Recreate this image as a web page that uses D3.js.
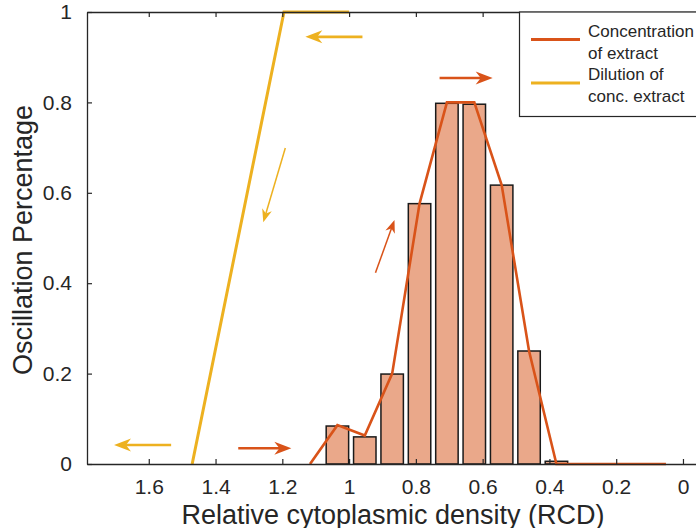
<!DOCTYPE html>
<html>
<head>
<meta charset="utf-8">
<script src="https://cdn.jsdelivr.net/npm/d3@7"></script>
<style>
  body { margin: 0; background: #fff; }
  text { font-family: "Liberation Sans", Arial, sans-serif; fill: #262626; }
</style>
</head>
<body>
<svg id="chart" width="696" height="528"></svg>
<script>
// histogram bins (RCD) and their heights
const binCenters = [1.691, 1.117, 1.035, 0.953, 0.871, 0.789, 0.707, 0.625, 0.543, 0.461, 0.379];
const binValues  = [0, 0, 0.084, 0.060, 0.199, 0.576, 0.798, 0.796, 0.617, 0.250, 0.006];

// concentration of extract line
const concX = [1.117, 1.035, 0.953, 0.871, 0.789, 0.707, 0.625, 0.543, 0.461, 0.379, 0.297, 0.215, 0.133, 0.051];
const concY = [0, 0.086, 0.063, 0.200, 0.576, 0.800, 0.800, 0.617, 0.250, 0, 0, 0, 0, 0];

// dilution of conc. extract line
const dilX = [1.47, 1.195, 1.0];
const dilY = [0, 1, 1];

const xTicks = [1.6, 1.4, 1.2, 1, 0.8, 0.6, 0.4, 0.2, 0];
const yTicks = [0, 0.2, 0.4, 0.6, 0.8, 1];

// annotation arrows: [x1, y1, x2, y2, series, thin]
const arrows = [
  [0.96, 0.945, 1.131, 0.945, "dil", false],
  [1.191, 0.699, 1.257, 0.535, "dil", true],
  [1.533, 0.042, 1.704, 0.042, "dil", false],
  [1.332, 0.035, 1.173, 0.035, "conc", false],
  [0.921, 0.423, 0.864, 0.540, "conc", true],
  [0.729, 0.854, 0.570, 0.854, "conc", false]
];

const colors = {conc: "#D95319", dil: "#EDB120"};
const legendLabels = [["Concentration", "of extract"], ["Dilution of", "conc. extract"]];

const mLeft = 87, mTop = 12, mBottom = 464, mRight = 700;

const svg = d3.select("#chart");
const x = d3.scaleLinear().domain([1.785, -0.051]).range([mLeft, mRight]);
const y = d3.scaleLinear().domain([0, 1]).range([mBottom, mTop]);

svg.append("defs").append("clipPath").attr("id", "clip")
  .append("rect").attr("x", mLeft).attr("y", mTop - 2).attr("width", mRight - mLeft).attr("height", mBottom - mTop + 4);

const plot = svg.append("g").attr("clip-path", "url(#clip)");

// bars
const barW = Math.abs(x(binCenters[3]) - x(binCenters[2])) * 0.82;
plot.selectAll("rect.bar").data(binCenters).join("rect")
  .attr("class", "bar")
  .attr("x", d => x(d) - barW / 2)
  .attr("y", (d, i) => y(binValues[i]))
  .attr("width", barW)
  .attr("height", (d, i) => y(0) - y(binValues[i]))
  .attr("fill", "#EAA88A")
  .attr("stroke", "#1a1a1a")
  .attr("stroke-width", 1.5);

// axes
const axisColor = "#262626";
const xAxis = svg.append("g").attr("transform", `translate(0,${mBottom})`)
  .call(d3.axisBottom(x).tickValues(xTicks).tickSizeInner(-5).tickSizeOuter(0).tickPadding(15).tickFormat(d3.format("~g")));
const xTop = svg.append("g").attr("transform", `translate(0,${mTop})`)
  .call(d3.axisTop(x).tickValues(xTicks).tickSizeInner(-5).tickSizeOuter(0).tickFormat(""));
const yAxis = svg.append("g").attr("transform", `translate(${mLeft},0)`)
  .call(d3.axisLeft(y).tickValues(yTicks).tickSizeInner(-5).tickSizeOuter(0).tickPadding(15).tickFormat(d3.format("~g")));

[xAxis, xTop, yAxis].forEach(g => {
  g.select(".domain").attr("stroke", axisColor).attr("stroke-width", 1.3);
  g.selectAll(".tick line").attr("stroke", axisColor).attr("stroke-width", 1.2);
  g.selectAll(".tick text").attr("font-size", 21).attr("fill", axisColor)
    .style("font-family", "'Liberation Sans', Arial, sans-serif");
});

// lines
const line = d3.line().x(d => x(d[0])).y(d => y(d[1]));
plot.append("path").datum(concX.map((v, i) => [v, concY[i]]))
  .attr("d", line).attr("fill", "none").attr("stroke", colors.conc).attr("stroke-width", 2.6);
plot.append("path").datum(dilX.map((v, i) => [v, dilY[i]]))
  .attr("d", line).attr("fill", "none").attr("stroke", colors.dil).attr("stroke-width", 3);

// arrows
function drawArrow(a) {
  const [x1, y1, x2, y2, s, thin] = a;
  const p1 = [x(x1), y(y1)], p2 = [x(x2), y(y2)];
  const dx = p2[0] - p1[0], dy = p2[1] - p1[1];
  const len = Math.hypot(dx, dy);
  const ux = dx / len, uy = dy / len, nx = -uy, ny = ux;
  const L = thin ? 13 : 17, W = thin ? 10 : 13;
  const g = svg.append("g");
  g.append("line")
    .attr("x1", p1[0]).attr("y1", p1[1])
    .attr("x2", p2[0] - ux * L * 0.6).attr("y2", p2[1] - uy * L * 0.6)
    .attr("stroke", colors[s]).attr("stroke-width", thin ? 1.5 : 2.6);
  const pts = [
    [p2[0], p2[1]],
    [p2[0] - ux * L + nx * W / 2, p2[1] - uy * L + ny * W / 2],
    [p2[0] - ux * L * 0.7, p2[1] - uy * L * 0.7],
    [p2[0] - ux * L - nx * W / 2, p2[1] - uy * L - ny * W / 2]
  ];
  g.append("polygon").attr("points", pts.map(p => p.join(",")).join(" ")).attr("fill", colors[s]);
}
arrows.forEach(drawArrow);

// axis labels
svg.append("text").attr("x", 393).attr("y", 523.5)
  .attr("text-anchor", "middle").attr("font-size", 27)
  .text("Relative cytoplasmic density (RCD)");
svg.append("text").attr("transform", `translate(32,240) rotate(-90)`)
  .attr("text-anchor", "middle").attr("font-size", 27)
  .text("Oscillation Percentage");

// legend
const lg = svg.append("g");
lg.append("rect").attr("x", 519.5).attr("y", mTop).attr("width", 200).attr("height", 104.5)
  .attr("fill", "#fff").attr("stroke", axisColor).attr("stroke-width", 1.2);
legendLabels.forEach((lines, i) => {
  const s = i === 0 ? "conc" : "dil";
  const cy = 39.5 + i * 43.5;
  lg.append("line").attr("x1", 531).attr("x2", 580).attr("y1", cy).attr("y2", cy)
    .attr("stroke", colors[s]).attr("stroke-width", 2.8);
  lines.forEach((t, j) => {
    lg.append("text").attr("x", 588).attr("y", 37 + i * 43 + j * 21.5)
      .attr("font-size", 17).text(t);
  });
});
</script>
</body>
</html>
